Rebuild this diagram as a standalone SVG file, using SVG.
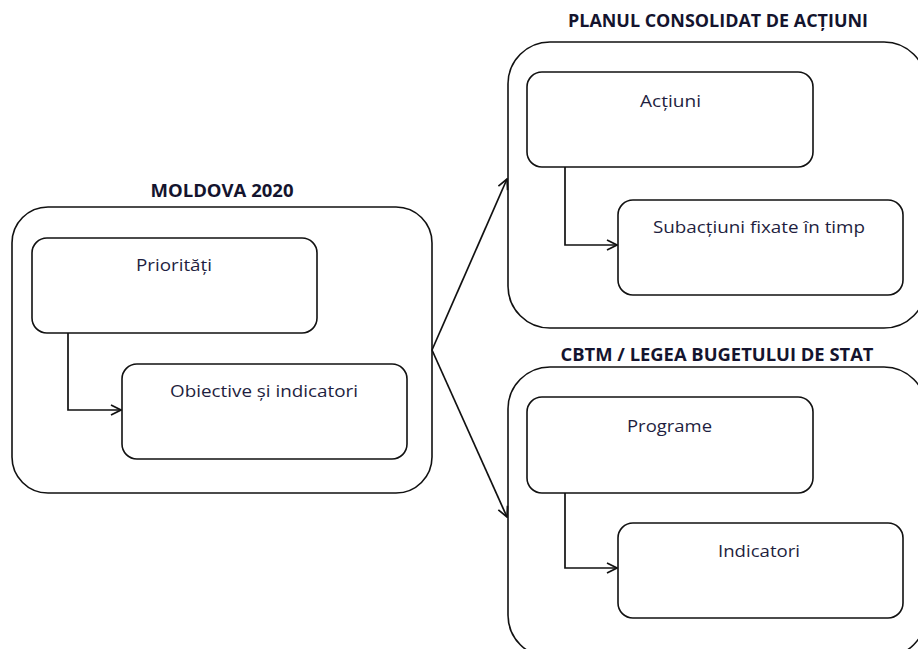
<svg xmlns="http://www.w3.org/2000/svg" width="918" height="649" viewBox="0 0 918 649">
<style>
.outer{fill:#fff;stroke:#111;stroke-width:1.6}
.inner{fill:#fff;stroke:#111;stroke-width:1.6}
.lbl{font-family:"Open Sans","Liberation Sans",sans-serif;font-size:17px;fill:#1e1e40}
.ttl{font-family:"Open Sans","Liberation Sans",sans-serif;font-size:17px;font-weight:bold;fill:#14142e}
.con{fill:none;stroke:#111;stroke-width:1.7}
</style>
<defs>
<marker id="arr" viewBox="0 0 12 12" refX="11" refY="6" markerWidth="12" markerHeight="12" markerUnits="userSpaceOnUse" orient="auto">
<path d="M1,1 L11,6 L1,11" fill="none" stroke="#111" stroke-width="1.7"/>
</marker>
</defs>
<rect width="918" height="649" fill="#fff"/>
<g id="moldova">
<text class="ttl" x="222" y="197" text-anchor="middle" textLength="143" lengthAdjust="spacingAndGlyphs">MOLDOVA 2020</text>
<rect class="outer" x="12" y="207" width="420" height="286" rx="36" ry="36"/>
</g>
<g id="prioritati">
<rect class="inner" x="32" y="238" width="285" height="95" rx="15" ry="15"/>
<text class="lbl" x="136" y="271" textLength="76" lengthAdjust="spacingAndGlyphs">Priorități</text>
</g>
<g id="obiective">
<rect class="inner" x="122" y="364" width="285" height="95" rx="15" ry="15"/>
<text class="lbl" x="170" y="397" textLength="188" lengthAdjust="spacingAndGlyphs">Obiective și indicatori</text>
</g>
<g id="planul">
<text class="ttl" x="718" y="27" text-anchor="middle" textLength="300" lengthAdjust="spacingAndGlyphs">PLANUL CONSOLIDAT DE ACȚIUNI</text>
<rect class="outer" x="508" y="42" width="418" height="286" rx="42" ry="42"/>
</g>
<g id="actiuni">
<rect class="inner" x="527" y="72" width="286" height="95" rx="15" ry="15"/>
<text class="lbl" x="640" y="107" textLength="61" lengthAdjust="spacingAndGlyphs">Acțiuni</text>
</g>
<g id="subactiuni">
<rect class="inner" x="618" y="200" width="285" height="95" rx="15" ry="15"/>
<text class="lbl" x="653" y="233" textLength="212" lengthAdjust="spacingAndGlyphs">Subacțiuni fixate în timp</text>
</g>
<g id="cbtm">
<text class="ttl" x="717" y="361" text-anchor="middle" textLength="313" lengthAdjust="spacingAndGlyphs">CBTM / LEGEA BUGETULUI DE STAT</text>
<rect class="outer" x="508" y="367" width="418" height="290" rx="42" ry="42"/>
</g>
<g id="programe">
<rect class="inner" x="527" y="397" width="286" height="96" rx="15" ry="15"/>
<text class="lbl" x="627" y="432" textLength="85" lengthAdjust="spacingAndGlyphs">Programe</text>
</g>
<g id="indicatori">
<rect class="inner" x="618" y="523" width="285" height="95" rx="15" ry="15"/>
<text class="lbl" x="718" y="557" textLength="82" lengthAdjust="spacingAndGlyphs">Indicatori</text>
</g>
<g id="connectors">
<path class="con" d="M68,333 L68,410 L121,410" marker-end="url(#arr)"/>
<path class="con" d="M565,167 L565,245 L617,245" marker-end="url(#arr)"/>
<path class="con" d="M565,493 L565,568 L617,568" marker-end="url(#arr)"/>
<path class="con" d="M432,350 L507,179" marker-end="url(#arr)"/>
<path class="con" d="M432,350 L507,517" marker-end="url(#arr)"/>
</g>
</svg>
